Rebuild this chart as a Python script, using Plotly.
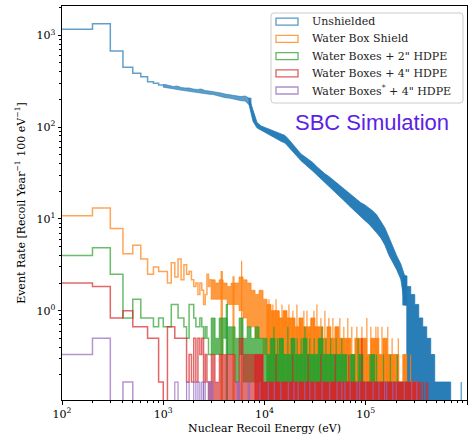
import math
import plotly.graph_objects as go

# ---------------- data ----------------
BIN_EV = 100                 # histogram bin width (eV)
RATE_PER_COUNT = 1.0 / 6.0   # one simulated count -> rate
FLOOR = 0.02                 # empty bins drawn below the visible range

LOW_START_EV = 100           # first 100 eV bin shown

# coarse display columns (eV) used where 100 eV bins are narrower than a pixel
column_edges_ev = [1000, 1095, 1199, 1313, 1438, 1575, 1724, 1888, 2067, 2264, 2479,
                   2714, 2972, 3255, 3564, 3903, 4274, 4680, 5125, 5612, 6145, 6729,
                   7369, 8069, 8836, 9676, 10600, 11600, 12710, 13910, 15240, 16680,
                   18270, 20010, 21910, 23990, 26270, 28770, 31500, 34500, 37770,
                   41360, 45290, 49600, 54310, 59480, 65130, 71320, 78100, 85520,
                   93650, 102550, 112290, 122970, 134650, 147450, 161470, 176810,
                   193620, 212020, 232170, 254240, 278400, 304870, 333840, 365570,
                   400320, 438370, 480030, 525650, 575610, 630320, 690230, 755830,
                   827660, 906330, 992470]

# Unshielded (rates)
unshielded_low = [1162, 1337, 674, 448, 385, 354, 312, 300, 288]
unshielded_band_hi = [291, 284, 277, 280, 270, 267, 267, 260, 257, 260, 250, 247, 244, 238,
                      235, 229, 226, 224, 221, 215, 218, 207,
                      150, 112, 103, 99, 95, 92, 87.5, 83.5, 81, 73,
                      65, 57, 51, 47.5, 44, 41, 37, 33.5, 31, 29,
                      26.7, 24.5, 22.6, 20.5, 19, 17.6, 16.3, 15, 14.2, 13.2,
                      12.2, 11.0, 9.5, 8.0, 6.35, 4.95, 3.95, 3.23, 2.39, 1.83,
                      1.5, 1.17, 0.833, 0.667, 0.5, 0.333, 0.167, 0.167, 0.167, 0.167]
unshielded_band_lo = [272, 265, 261, 256, 252, 249, 243, 243, 237, 234, 231, 228, 226, 220,
                      215, 209, 207, 202, 199, 194, 192, 175,
                      115, 98, 91, 86, 82, 78, 74, 70, 67, 61,
                      54, 48, 43, 39, 36, 33, 30, 27, 24.5, 22.2,
                      20.5, 18.6, 17, 15.5, 14, 12.7, 11.5, 10.5, 9.6, 8.8,
                      7.9, 7.0, 6.2, 5.2, 4.05, 3.4, 2.78, 2.2, 1.15, 0,
                      0, 0, 0, 0, 0, 0, 0, 0, 0, 0]
unshielded_dense_from = 22
unshielded_steep_from = 61
unshielded_spikes_ev = [877000]
unshielded_spikes_k = [1]

# Water Box Shield (counts)
water_low_k = [65, 79, 47, 25, 31, 22, 15, 18, 16,
               16, 12, 20, 14, 22, 13, 19, 15, 16, 13,
               11, 12, 9, 12, 10, 7, 9, 15, 11, 13]
water_band_start = 12
water_band_hi_k = [13, 12, 13, 12, 11, 12, 12, 14, 13, 12, 10, 9, 10, 8,
                   7, 6, 6, 5, 6, 5, 5, 4, 5, 4, 4, 5, 4, 4, 3, 4, 3, 4, 3, 3, 3,
                   2, 3, 3, 3, 2, 3, 3, 2, 3, 2, 2, 2, 1, 2, 1, 1, 1]
water_band_lo_k = [8, 8, 8, 8, 7, 7, 7, 6, 5, 4, 4, 3, 3, 2,
                   1, 0, 0, 0, 0, 0, 0, 0, 0, 0, 0, 0, 0, 0, 0, 0, 0, 0, 0, 0, 0,
                   0, 0, 0, 0, 0, 0, 0, 0, 0, 0, 0, 0, 0, 0, 0, 0, 0]
water_dense_from = 14
water_spikes_ev = [3730, 4890, 5940, 11070, 12100, 13010, 13910, 14880, 16290, 17430,
                   19080, 20900, 22360, 24480, 26270, 28770, 30780, 32940, 36070,
                   39490, 43240, 47350, 51840, 55470, 60740, 66510, 72820, 81690,
                   91640, 102550, 112290, 125980, 132000, 144650, 162300, 165000,
                   182100, 209700, 241200, 277000]
water_spikes_k = [16, 14, 21, 8, 7, 8, 6, 7, 6, 7,
                  6, 7, 5, 6, 6, 5, 6, 7, 5,
                  6, 5, 5, 4, 5, 4, 5, 4, 4,
                  4, 5, 4, 4, 4, 4, 3, 4,
                  3, 3, 2, 2]

# Water Boxes + 2" HDPE (counts)
hdpe2_low_k = [24, 29, 15, 5, 8, 5, 5, 4, 5,
               4, 4, 7, 7, 5, 5, 4, 3, 7, 7,
               5, 4, 4, 5, 4, 3, 4, 3, 2, 2]
hdpe2_band_start = 12
hdpe2_band_hi_k = [5, 3, 5, 5, 4, 4, 3, 5, 3, 4, 3, 4, 3, 3,
                   2, 3, 2, 3, 2, 2, 3, 2, 2, 3, 2, 2, 2, 3, 2, 2, 2, 2, 2, 2,
                   1, 2, 1, 2, 1, 1, 2, 1, 1, 1, 1, 1, 1, 1, 1, 1]
hdpe2_band_lo_k = [2, 2, 2, 3, 2, 2, 1, 2, 1, 1, 1, 1, 0, 0,
                   0, 0, 0, 0, 0, 0, 0, 0, 0, 0, 0, 0, 0, 0, 0, 0, 0, 0, 0, 0,
                   0, 0, 0, 0, 0, 0, 0, 0, 0, 0, 0, 0, 0, 0, 0, 0]
hdpe2_dense_from = 14
hdpe2_spikes_ev = [4200, 11400, 12400, 13400, 15300, 17000, 18700, 21000, 23000, 25100,
                   28000, 31000, 34000, 37000, 40500, 45000, 51000, 58000, 63000,
                   70000, 77000, 84000, 92000, 110000, 128000, 150000, 175000,
                   205000, 240000, 270000, 300000, 330000]
hdpe2_spikes_k = [7, 3, 4, 3, 3, 4, 3, 3, 3, 4,
                  3, 3, 3, 4, 3, 3, 3, 3, 2,
                  2, 2, 3, 2, 2, 2, 2, 2,
                  2, 1, 1, 1, 1]

# Water Boxes + 4" HDPE (counts)
hdpe4_low_k = [12, 11, 5, 6, 4, 4, 3, 3, 1,
               0, 4, 4, 3, 3, 3, 3, 1, 2, 1,
               3, 1, 3, 2, 3, 1, 2, 1, 0, 1]
hdpe4_band_start = 12
hdpe4_band_hi_k = [2, 1, 2, 2, 2, 2, 1, 3, 2, 2, 2, 2, 2, 1,
                   1, 1, 1, 1, 1, 1, 1, 1, 1, 1, 1, 1, 1, 1, 1, 1, 1, 1, 1, 1,
                   1, 1, 1, 1, 1, 1, 1, 1, 1, 1, 1, 1, 1, 1, 1, 1, 1, 1]
hdpe4_band_lo_k = [0] * 52
hdpe4_dense_from = 11
hdpe4_spikes_ev = [9500, 13000, 19000, 27000, 36000, 50000, 68000, 91600,
                   340000, 352000, 372000, 395000, 410000]
hdpe4_spikes_k = [2, 2, 2, 2, 2, 2, 2, 3,
                  1, 1, 1, 1, 1]

# Water Boxes* + 4" HDPE (counts)
hdpe4s_low_k = [2, 3, 0, 1]
hdpe4s_spikes_ev = [1300, 1700, 2000, 2200, 2400, 2500, 2800, 3000, 5400, 5600, 6900,
                    7100, 9000, 10900, 12500, 14500, 17200, 19500, 21500, 25000, 28000,
                    31500, 37000, 44000, 52000, 58000, 62300, 70000, 82000, 87000,
                    100000, 118000, 134700, 153500, 161000, 185000, 200000, 240000,
                    285000, 320000]
hdpe4s_spikes_k = [1] * 40

series_names = ["Unshielded", "Water Box Shield", "Water Boxes + 2\" HDPE",
                "Water Boxes + 4\" HDPE", "Water Boxes<sup>*</sup> + 4\" HDPE"]
series_colors = [(31, 119, 180), (255, 127, 14), (44, 160, 44), (214, 39, 40), (148, 103, 189)]

x_tick_vals = [1e2, 1e3, 1e4, 1e5, 1e6]
x_tick_text = ["10<sup>2</sup>", "10<sup>3</sup>", "10<sup>4</sup>", "10<sup>5</sup>", "10<sup>6</sup>"]
y_tick_vals = [1e0, 1e1, 1e2, 1e3]
y_tick_text = ["10<sup>0</sup>", "10<sup>1</sup>", "10<sup>2</sup>", "10<sup>3</sup>"]


# ---------------- helpers ----------------
def rgba(c, a):
    return "rgba(%d,%d,%d,%.2f)" % (c[0], c[1], c[2], a)


def step_xy(start, width, vals, close=False):
    xs, ys = [], []
    for j, v in enumerate(vals):
        e0 = start + j * width
        y = v if v > 0 else FLOOR
        xs += [e0, e0 + width]
        ys += [y, y]
    if close:
        xs.append(start + len(vals) * width)
        ys.append(FLOOR)
    return xs, ys


def band_step_xy(edges, i0, hi, lo):
    xs, ys = [], []
    for j, h in enumerate(hi):
        xs += [edges[i0 + j], edges[i0 + j + 1]]
        ys += [max(h, FLOOR)] * 2
    for j in reversed(range(len(lo))):
        xs += [edges[i0 + j + 1], edges[i0 + j]]
        ys += [max(lo[j], FLOOR)] * 2
    xs.append(xs[0])
    ys.append(ys[0])
    return xs, ys


def band_smooth_xy(edges, i0, hi, lo, pad_left=True):
    # envelope drawn through column centres (log-centre of each column)
    cx = [math.sqrt(edges[i0 + j] * edges[i0 + j + 1]) for j in range(len(hi))]
    xl = [edges[i0]] if pad_left else []
    yl_t = [hi[0]] if pad_left else []
    yl_b = [lo[0]] if pad_left else []
    xs = xl + cx + [edges[i0 + len(hi)]]
    ys = yl_t + list(hi) + [hi[-1]]
    xs_b = [edges[i0 + len(lo)]] + cx[::-1] + xl
    ys_b = [lo[-1]] + list(lo[::-1]) + yl_b
    xs = xs + xs_b + [xs[0]]
    ys = [max(v, FLOOR) for v in ys + ys_b + [ys[0]]]
    return xs, ys


def spike_xy(es, ks):
    xs, ys = [], []
    for e, k in zip(es, ks):
        h = k * RATE_PER_COUNT
        xs += [e, e, e + BIN_EV, e + BIN_EV, None]
        ys += [FLOOR, h, h, FLOOR, None]
    return xs, ys


fig = go.Figure()


def add_line(xs, ys, color, alpha, width=1.5):
    fig.add_trace(go.Scatter(x=xs, y=ys, mode="lines",
                             line=dict(color=rgba(color, alpha), width=width),
                             hoverinfo="skip", showlegend=False))


def add_poly(xs, ys, color, a):
    fig.add_trace(go.Scatter(x=xs, y=ys, mode="lines", fill="toself",
                             fillcolor=rgba(color, a),
                             line=dict(color=rgba(color, a), width=0.8),
                             hoverinfo="skip", showlegend=False))


def add_band(i0, hi, lo, dense_from, color, a_sparse, a_dense):
    if dense_from > 0:
        add_poly(*band_step_xy(column_edges_ev, i0, hi[:dense_from], lo[:dense_from]),
                 color, a_sparse)
    add_poly(*band_step_xy(column_edges_ev, i0 + dense_from, hi[dense_from:], lo[dense_from:]),
             color, a_dense)


def k2r(vals):
    return [v * RATE_PER_COUNT for v in vals]


# Unshielded: smooth noisy band, then quantised fill in the steep tail
c = series_colors[0]
add_line(*step_xy(LOW_START_EV, BIN_EV, unshielded_low), c, 0.7)
d, s = unshielded_dense_from, unshielded_steep_from
add_poly(*band_smooth_xy(column_edges_ev, 0, unshielded_band_hi[:d], unshielded_band_lo[:d]),
         c, 0.72)
add_poly(*band_smooth_xy(column_edges_ev, d - 1, unshielded_band_hi[d - 1:s],
                         unshielded_band_lo[d - 1:s], pad_left=False), c, 0.95)
add_poly(*band_step_xy(column_edges_ev, s - 1, unshielded_band_hi[s - 1:],
                       unshielded_band_lo[s - 1:]), c, 0.95)
add_line(*spike_xy(unshielded_spikes_ev, unshielded_spikes_k), c, 0.8, 1.2)

# Water Box Shield
c = series_colors[1]
add_line(*step_xy(LOW_START_EV, BIN_EV, k2r(water_low_k)), c, 0.7)
add_band(water_band_start, k2r(water_band_hi_k), k2r(water_band_lo_k),
         water_dense_from, c, 0.8, 0.95)
add_line(*spike_xy(water_spikes_ev, water_spikes_k), c, 0.8, 1.2)

# + 2" HDPE
c = series_colors[2]
add_line(*step_xy(LOW_START_EV, BIN_EV, k2r(hdpe2_low_k)), c, 0.7)
add_band(hdpe2_band_start, k2r(hdpe2_band_hi_k), k2r(hdpe2_band_lo_k),
         hdpe2_dense_from, c, 0.75, 0.95)
add_line(*spike_xy(hdpe2_spikes_ev, hdpe2_spikes_k), c, 0.8, 1.2)

# + 4" HDPE
c = series_colors[3]
add_line(*step_xy(LOW_START_EV, BIN_EV, k2r(hdpe4_low_k)), c, 0.7)
add_band(hdpe4_band_start, k2r(hdpe4_band_hi_k), k2r(hdpe4_band_lo_k),
         hdpe4_dense_from, c, 0.65, 0.95)
add_line(*spike_xy(hdpe4_spikes_ev, hdpe4_spikes_k), c, 0.8, 1.2)

# Water Boxes* + 4" HDPE
c = series_colors[4]
add_line(*step_xy(LOW_START_EV, BIN_EV, k2r(hdpe4s_low_k), close=True), c, 0.7)
add_line(*spike_xy(hdpe4s_spikes_ev, hdpe4s_spikes_k), c, 0.75, 1.2)

# ---------------- layout ----------------
W, H = 471, 436
ML, MR, MT, MB = 62, 4, 6, 36
PW, PH = W - ML - MR, H - MT - MB


def px2paper(x, y):
    return (x - ML) / PW, (H - MB - y) / PH


minor_x = [m * 10 ** e for e in range(2, 6) for m in range(2, 10)]
minor_y = [m * 10.0 ** e for e in range(-1, 4) for m in range(2, 10)]

axis_common = dict(type="log", showline=True, linecolor="black", linewidth=1, mirror=True,
                   ticks="outside", ticklen=3.5, tickwidth=1, tickcolor="black",
                   showgrid=False, zeroline=False, automargin=False,
                   tickfont=dict(family="DejaVu Serif", size=11, color="black"))

fig.update_xaxes(range=[2, 6], tickmode="array", tickvals=x_tick_vals, ticktext=x_tick_text,
                 minor=dict(tickmode="array", tickvals=minor_x, ticks="outside", ticklen=2,
                            tickwidth=0.7, tickcolor="black", showgrid=False),
                 title=dict(text="Nuclear Recoil Energy (eV)", standoff=4,
                            font=dict(family="DejaVu Serif", size=11, color="black")),
                 **axis_common)
fig.update_yaxes(range=[-0.973, 3.319], tickmode="array", tickvals=y_tick_vals, ticktext=y_tick_text,
                 minor=dict(tickmode="array", tickvals=minor_y, ticks="outside", ticklen=2,
                            tickwidth=0.7, tickcolor="black", showgrid=False),
                 title=dict(text="Event Rate [Recoil Year<sup>−1</sup> 100 eV<sup>−1</sup>]",
                            standoff=8,
                            font=dict(family="DejaVu Serif", size=11, color="black")),
                 **axis_common)

shapes = []
annotations = []

# legend frame (rounded)
bx0, by0 = px2paper(271, 103)
bx1, by1 = px2paper(463, 13)
rx, ry = 3.0 / PW, 3.0 / PH
path = ("M %f,%f L %f,%f Q %f,%f %f,%f L %f,%f Q %f,%f %f,%f L %f,%f Q %f,%f %f,%f "
        "L %f,%f Q %f,%f %f,%f Z") % (
    bx0 + rx, by0, bx1 - rx, by0, bx1, by0, bx1, by0 + ry,
    bx1, by1 - ry, bx1, by1, bx1 - rx, by1,
    bx0 + rx, by1, bx0, by1, bx0, by1 - ry,
    bx0, by0 + ry, bx0, by0, bx0 + rx, by0)
shapes.append(dict(type="path", xref="paper", yref="paper", path=path,
                   line=dict(color="#cccccc", width=1), fillcolor="rgba(255,255,255,0.85)"))

for i, (name, col) in enumerate(zip(series_names, series_colors)):
    yc = 21.7 + 17.2 * i
    px0, py0 = px2paper(276, yc + 3.5)
    px1, py1 = px2paper(298, yc - 3.5)
    shapes.append(dict(type="rect", xref="paper", yref="paper", x0=px0, x1=px1, y0=py0, y1=py1,
                       line=dict(color=rgba(col, 0.75), width=1.3), fillcolor="rgba(0,0,0,0)"))
    tx, ty = px2paper(310, yc)
    annotations.append(dict(xref="paper", yref="paper", x=tx, y=ty, text=name, showarrow=False,
                            xanchor="left", yanchor="middle",
                            font=dict(family="DejaVu Serif", size=11, color="#222222")))

sx, sy = px2paper(372, 123)
annotations.append(dict(xref="paper", yref="paper", x=sx, y=sy, text="SBC Simulation",
                        showarrow=False, xanchor="center", yanchor="middle",
                        font=dict(family="Liberation Sans", size=22, color="#5b22e6")))

fig.update_layout(width=W, height=H, margin=dict(l=ML, r=MR, t=MT, b=MB),
                  plot_bgcolor="white", paper_bgcolor="white", showlegend=False,
                  shapes=shapes, annotations=annotations,
                  font=dict(family="DejaVu Serif", size=11, color="black"))

fig.write_html("out.html", config={"displayModeBar": False},
               post_script="document.body.style.margin='0px';")
